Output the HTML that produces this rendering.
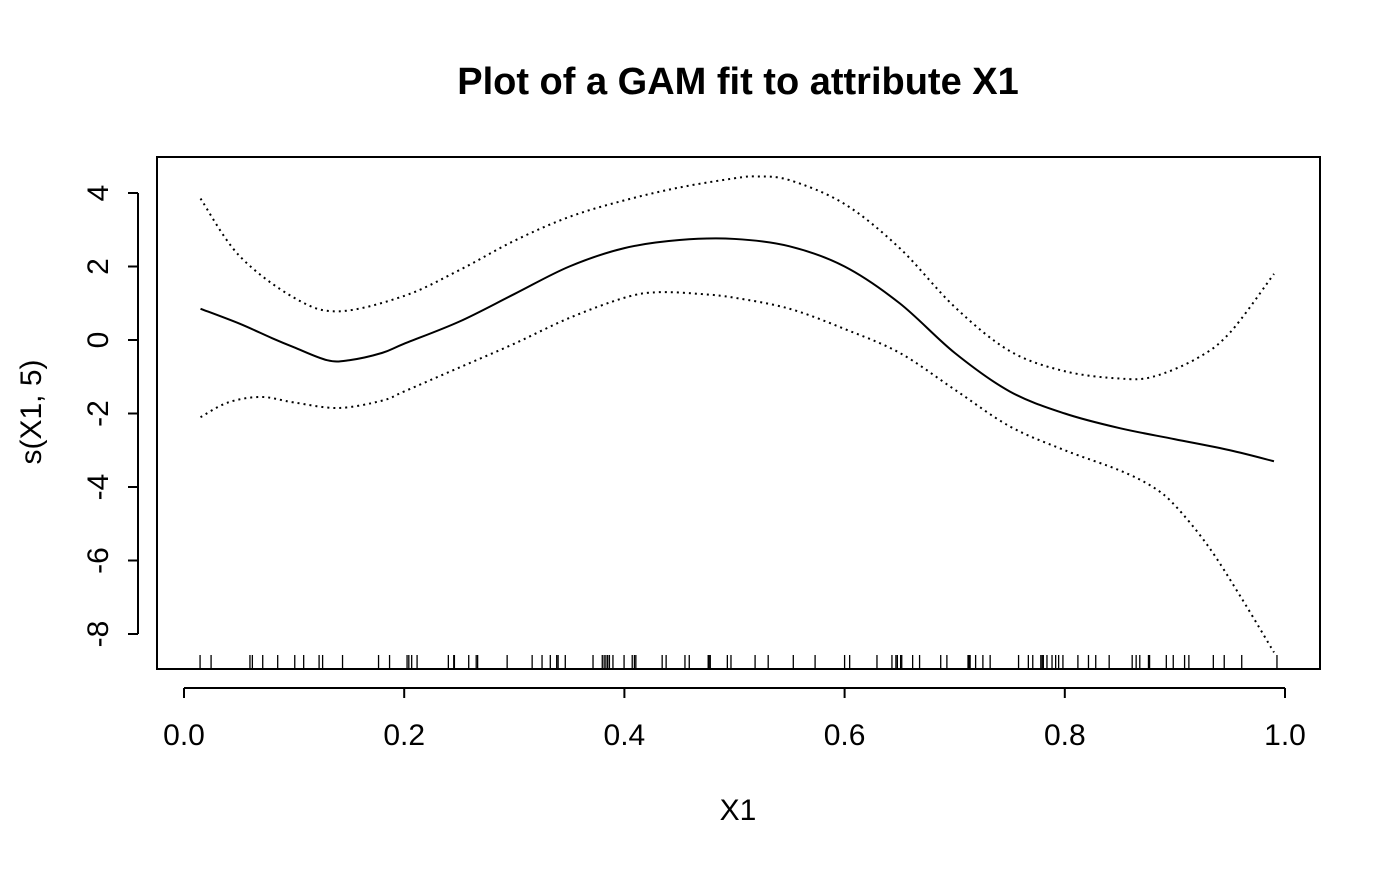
<!DOCTYPE html>
<html><head><meta charset="utf-8"><style>
html,body{margin:0;padding:0;background:#fff;}
svg text{font-family:"Liberation Sans",Arial,sans-serif;fill:#000;}
</style></head><body>
<svg id="chart" width="1400" height="866" viewBox="0 0 1400 866" xmlns="http://www.w3.org/2000/svg">
<rect width="1400" height="866" fill="#fff"/>
<text x="738" y="94" text-anchor="middle" font-size="38" font-weight="bold">Plot of a GAM fit to attribute X1</text>
<text x="738" y="820" text-anchor="middle" font-size="30">X1</text>
<text transform="translate(41,412) rotate(-90)" text-anchor="middle" font-size="30">s(X1, 5)</text>
<rect x="157" y="157" width="1163" height="512" fill="none" stroke="#000" stroke-width="2"/>
<g id="axes"></g>
<g id="marks"></g>
</svg>
<script>
const xTicks=[0,0.2,0.4,0.6,0.8,1.0];
const xTickLabels=["0.0","0.2","0.4","0.6","0.8","1.0"];
const yTicks=[4,2,0,-2,-4,-6,-8];
const yTickLabels=["4","2","0","-2","-4","-6","-8"];
const fitX=[0.015,0.05,0.08,0.1,0.13,0.15,0.18,0.2,0.25,0.3,0.35,0.4,0.45,0.5,0.55,0.6,0.65,0.7,0.75,0.8,0.85,0.9,0.95,0.99];
const fitY=[0.85,0.45,0.05,-0.2,-0.55,-0.55,-0.35,-0.1,0.5,1.25,2.0,2.5,2.72,2.75,2.55,2.0,1.0,-0.35,-1.4,-2.0,-2.4,-2.7,-3.0,-3.3];
const upperX=[0.015,0.05,0.1,0.14,0.2,0.25,0.3,0.35,0.4,0.45,0.5,0.52,0.55,0.6,0.65,0.7,0.75,0.8,0.85,0.88,0.92,0.95,0.99];
const upperY=[3.85,2.3,1.15,0.78,1.2,1.9,2.7,3.35,3.8,4.15,4.4,4.45,4.35,3.7,2.5,0.9,-0.3,-0.85,-1.05,-1.0,-0.5,0.2,1.8];
const lowerX=[0.015,0.04,0.07,0.1,0.14,0.18,0.2,0.25,0.3,0.35,0.4,0.43,0.47,0.5,0.55,0.6,0.65,0.7,0.75,0.8,0.85,0.88,0.9,0.93,0.96,0.99];
const lowerY=[-2.1,-1.7,-1.55,-1.7,-1.85,-1.65,-1.4,-0.75,-0.1,0.6,1.15,1.3,1.25,1.15,0.85,0.3,-0.35,-1.35,-2.35,-3.0,-3.55,-4.0,-4.5,-5.6,-7.0,-8.5];
const rugX=[0.0146,0.0246,0.0599,0.0621,0.0715,0.0851,0.1006,0.1087,0.1227,0.1259,0.1440,0.1767,0.1867,0.2026,0.2042,0.2068,0.2117,0.2401,0.2450,0.2456,0.2586,0.2654,0.2667,0.2935,0.3162,0.3252,0.3327,0.3385,0.3398,0.3463,0.3715,0.3799,0.3816,0.3832,0.3848,0.3864,0.3896,0.3997,0.4071,0.4091,0.4104,0.4343,0.4379,0.4550,0.4589,0.4761,0.4770,0.4780,0.4935,0.4968,0.5187,0.5306,0.5534,0.5732,0.6,0.6046,0.6294,0.6430,0.6466,0.6479,0.6509,0.6519,0.6618,0.6681,0.6873,0.6929,0.7121,0.7131,0.7140,0.7190,0.7256,0.7322,0.7580,0.7669,0.7709,0.7782,0.7795,0.7805,0.7838,0.7884,0.7917,0.7944,0.7983,0.8119,0.8215,0.8281,0.8403,0.8612,0.8648,0.8681,0.8760,0.8770,0.8922,0.8985,0.9088,0.9127,0.9349,0.9448,0.9607,0.9927];

const NS="http://www.w3.org/2000/svg";
const sx=v=>184+v*1101;
const sy=v=>340-v*36.75;
const axes=document.getElementById('axes');
const marks=document.getElementById('marks');
function mk(tag,attrs,parent){const e=document.createElementNS(NS,tag);for(const k in attrs)e.setAttribute(k,attrs[k]);parent.appendChild(e);return e;}

const xl=mk('line',{x1:sx(0),x2:sx(1),y1:688,y2:688,stroke:'#000','stroke-width':2},axes);


xTicks.forEach((t,i)=>{
  const l=mk('line',{x1:sx(t),x2:sx(t),y1:688,y2:698,stroke:'#000','stroke-width':2},axes);
  
  
  const tx=mk('text',{x:sx(t),y:745,'text-anchor':'middle','font-size':30},axes);
  
  
  tx.textContent=xTickLabels[i];
});
const yl=mk('line',{x1:138,x2:138,y1:sy(4),y2:sy(-8),stroke:'#000','stroke-width':2},axes);


yTicks.forEach((t,i)=>{
  const l=mk('line',{x1:128,x2:138,y1:sy(t),y2:sy(t),stroke:'#000','stroke-width':2},axes);
  
  
  const tx=mk('text',{transform:`translate(108,${sy(t)}) rotate(-90)`,'text-anchor':'middle','font-size':30},axes);
  
  
  tx.textContent=yTickLabels[i];
});

function smoothPath(xs,ys){
  const p=xs.map((x,i)=>[sx(x),sy(ys[i])]);
  let d=`M${p[0][0]},${p[0][1]}`;
  for(let i=0;i<p.length-1;i++){
    const p0=p[Math.max(0,i-1)],p1=p[i],p2=p[i+1],p3=p[Math.min(p.length-1,i+2)];
    const c1=[p1[0]+(p2[0]-p0[0])/6,p1[1]+(p2[1]-p0[1])/6];
    const c2=[p2[0]-(p3[0]-p1[0])/6,p2[1]-(p3[1]-p1[1])/6];
    d+=` C${c1[0]},${c1[1]} ${c2[0]},${c2[1]} ${p2[0]},${p2[1]}`;
  }
  return d;
}
const fit=mk('path',{d:smoothPath(fitX,fitY),fill:'none',stroke:'#000','stroke-width':2},marks);


const up=mk('path',{d:smoothPath(upperX,upperY),fill:'none',stroke:'#000','stroke-width':2,'stroke-dasharray':'2 4'},marks);


const lo=mk('path',{d:smoothPath(lowerX,lowerY),fill:'none',stroke:'#000','stroke-width':2,'stroke-dasharray':'2 4'},marks);


rugX.forEach(v=>{
  const r=mk('line',{x1:sx(v),x2:sx(v),y1:655,y2:669,stroke:'#000','stroke-width':1.3},marks);
  
  
});
</script>
</body></html>
